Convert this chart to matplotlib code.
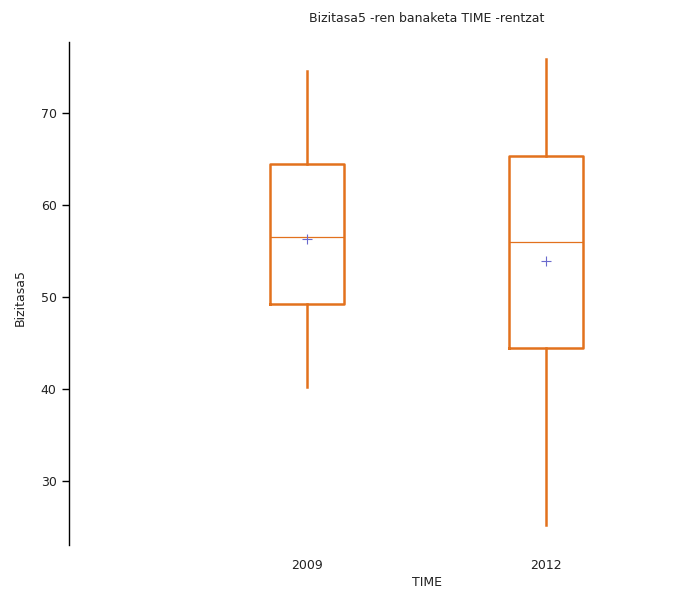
import matplotlib
matplotlib.use("Agg")
import matplotlib.pyplot as plt

categories = ["2009", "2012"]
whisker_low = [40.2, 25.2]
q1 = [49.2, 44.4]
median = [56.45, 55.9]
q3 = [64.4, 65.35]
whisker_high = [74.5, 75.8]
mean = [56.3, 53.85]

orange = "#E2711D"
blue = "#6A6ACD"

fig = plt.figure(figsize=(6.75, 5.92), dpi=100)
ax = fig.add_axes([69/675, 47/592, (665-69)/675, (545-42)/592])

stats = []
for i, c in enumerate(categories):
    stats.append(dict(label=c, whislo=whisker_low[i], q1=q1[i], med=median[i],
                      q3=q3[i], whishi=whisker_high[i], mean=mean[i], fliers=[]))
positions = list(range(1, len(categories) + 1))
ax.bxp(stats, positions=positions, widths=0.31, showmeans=True, showcaps=False,
       boxprops=dict(color=orange, linewidth=1.8),
       whiskerprops=dict(color=orange, linewidth=1.8),
       medianprops=dict(color=orange, linewidth=0.9),
       meanprops=dict(marker='+', markeredgecolor=blue, markersize=7, markeredgewidth=0.8, zorder=5))

ax.set_xlim(0, 2.5)
ax.set_ylim(23.0, 77.7)
ax.set_yticks([30, 40, 50, 60, 70])
ax.set_xticks(positions)
ax.set_xticklabels(categories)
for s in ["top", "right", "bottom"]:
    ax.spines[s].set_visible(False)
ax.spines["left"].set_linewidth(1.0)
ax.tick_params(axis='y', length=5, width=1.0, labelsize=9, pad=4, colors="#000000")
ax.tick_params(axis='x', length=0, labelsize=9, pad=10)
for lab in ax.get_yticklabels() + ax.get_xticklabels():
    lab.set_color("#222222")

fig.text(427/675, 1 - 18/592, "Bizitasa5 -ren banaketa TIME -rentzat", ha="center", va="center", fontsize=9, color="#222222")
fig.text(427/675, 1 - 583/592, "TIME", ha="center", va="center", fontsize=9, color="#222222")
fig.text(20/675, 1 - 297/592, "Bizitasa5", ha="center", va="center", rotation=90, fontsize=9, color="#222222")

fig.savefig("out.png", dpi=100)
